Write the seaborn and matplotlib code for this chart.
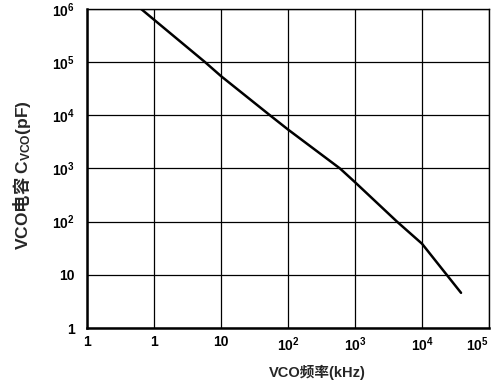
import matplotlib
matplotlib.use("Agg")
import matplotlib.pyplot as plt
import seaborn as sns
import pandas as pd

# Data (frequency kHz, capacitance pF)
freq_khz = [0.64, 5.77, 10, 53.8, 100, 597, 1000, 4240, 10000, 23400, 38200]
cap_pf = [1e6, 1e5, 5.45e4, 1e4, 5.4e3, 1e3, 552, 100, 38.5, 10, 4.6]

x_ticks = [0.1, 1, 10, 100, 1000, 10000, 100000]
x_labels = ["1", "1", "10", "$10^{2}$", "$10^{3}$", "$10^{4}$", "$10^{5}$"]
y_ticks = [1, 10, 100, 1000, 10000, 100000, 1000000]
y_labels = ["1", "10", "$10^{2}$", "$10^{3}$", "$10^{4}$", "$10^{5}$", "$10^{6}$"]

sns.set_style("white")
plt.rcParams['font.family'] = ['Liberation Sans', 'Noto Sans CJK SC', 'DejaVu Sans']
plt.rcParams['font.weight'] = 'bold'
plt.rcParams['mathtext.fontset'] = 'custom'
plt.rcParams['mathtext.rm'] = 'Liberation Sans:bold'
plt.rcParams['mathtext.it'] = 'Liberation Sans:bold'
plt.rcParams['mathtext.bf'] = 'Liberation Sans:bold'

df = pd.DataFrame({"freq": freq_khz, "cap": cap_pf})

fig = plt.figure(figsize=(4.97, 3.86), dpi=100)
ax = fig.add_axes([0.175, 0.150, 0.809, 0.827])

ax.set_xscale("log")
ax.set_yscale("log")
sns.lineplot(data=df, x="freq", y="cap", ax=ax, color="black", linewidth=1.8)

ax.set_xlim(0.1, 1e5)
ax.set_ylim(1, 1e6)
ax.set_xticks(x_ticks)
ax.set_xticklabels(x_labels, fontsize=10, fontweight='bold')
ax.set_yticks(y_ticks)
ax.set_yticklabels(y_labels, fontsize=10, fontweight='bold')
ax.minorticks_off()
ax.tick_params(axis='x', length=0, pad=5, colors='black')
ax.tick_params(axis='y', length=0, pad=9, colors='black')
ax.get_xticklabels()[-1].set_horizontalalignment('right')

ax.grid(True, which='major', color='black', linewidth=0.9)
for side in ['left', 'bottom']:
    ax.spines[side].set_linewidth(1.8)
for side in ['right', 'top']:
    ax.spines[side].set_linewidth(1.0)
for s in ax.spines.values():
    s.set_color('black')

ax.set_xlabel("VCO频率(kHz)", fontsize=10.5, fontweight='bold')
ax.xaxis.set_label_coords(0.572, -0.115)
ax.set_ylabel("$\\mathrm{VCO}$电容 $\\mathrm{C_{VCO}(pF)}$", fontsize=12.5,
              fontweight='bold', family=['Noto Sans CJK SC'])
ax.yaxis.set_label_coords(-0.134, 0.48)

fig.savefig("out.png", dpi=100)
